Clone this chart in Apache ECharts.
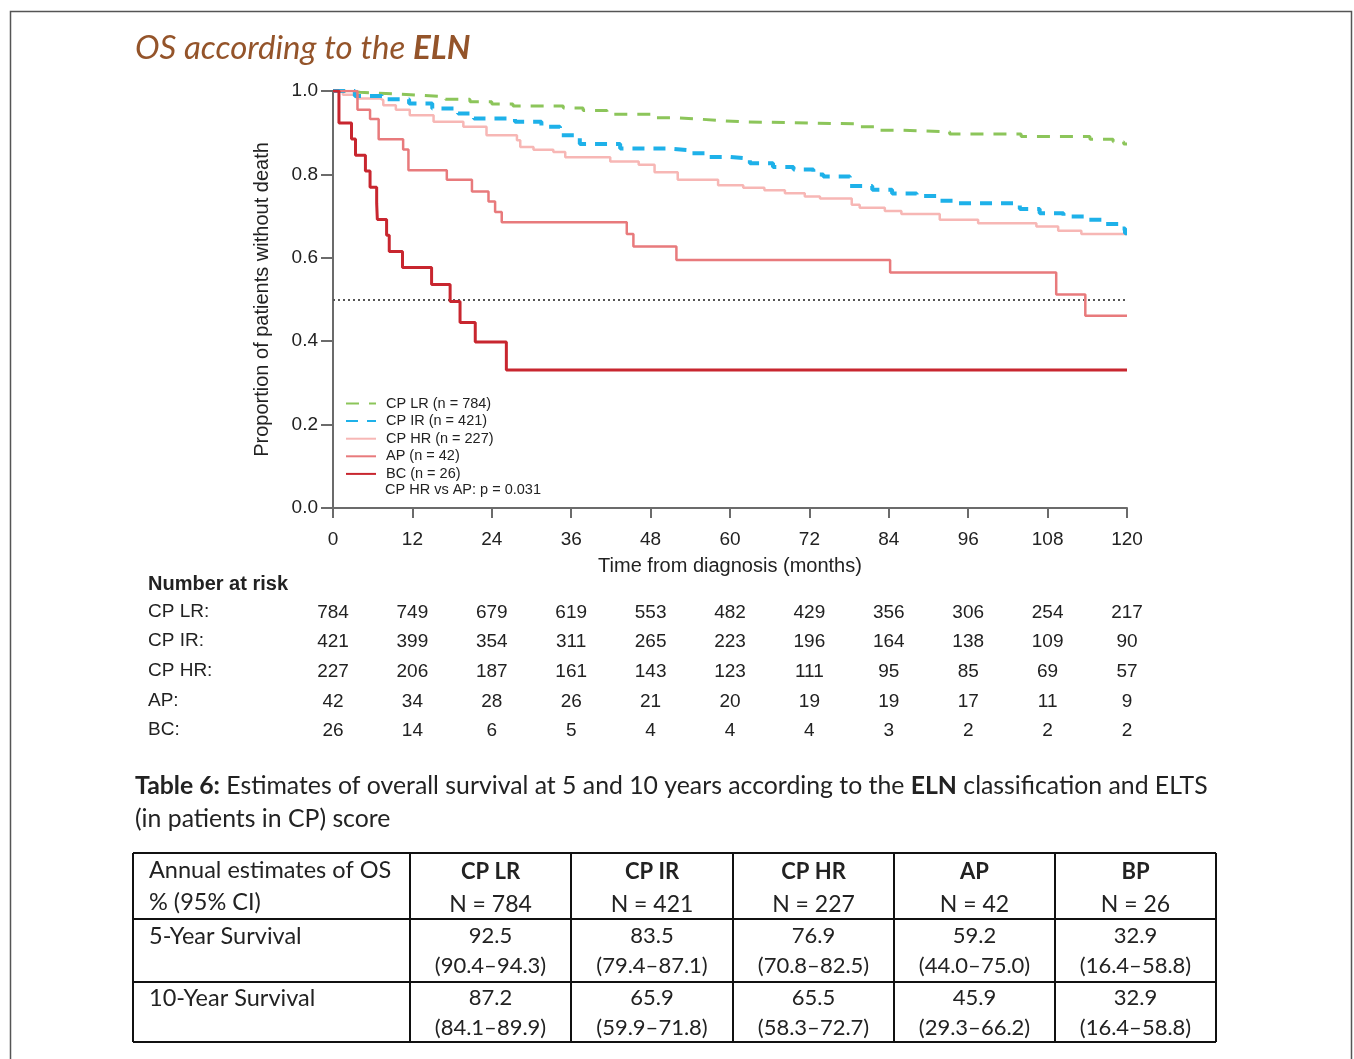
<!DOCTYPE html>
<html><head><meta charset="utf-8">
<script src="https://cdn.jsdelivr.net/npm/echarts@6/dist/echarts.min.js"></script>
<style>html,body{margin:0;padding:0;background:#fff}#c{width:1354px;height:1059px}</style>
</head><body><div id="c"></div>
<script>
// ---- data ----
const groups = ['CP LR', 'CP IR', 'CP HR', 'AP', 'BC'];
const groupN = [784, 421, 227, 42, 26];

const lrTime = [0, 2, 4.1, 8, 13.1, 17, 20.7, 24, 27.2, 34.8, 37.8, 41.4, 48.4, 51.4, 55, 58.5, 62, 69.1, 79.6, 82.7, 86.2, 93.2, 104, 114.4, 117.9, 119.5, 120];
const lrSurv = [1, 0.997, 0.994, 0.990, 0.986, 0.980, 0.974, 0.969, 0.964, 0.959, 0.953, 0.944, 0.936, 0.933, 0.929, 0.926, 0.924, 0.921, 0.914, 0.906, 0.902, 0.897, 0.891, 0.884, 0.878, 0.873, 0.873];

const irTime = [0, 3.3, 7.4, 11.5, 15, 18.9, 21.3, 27.5, 31.5, 34.3, 37.3, 43.4, 50.6, 53.9, 56.5, 60, 63, 66.5, 69.6, 72.6, 74.1, 78.1, 81.5, 84.5, 88.2, 91.4, 93.7, 103.8, 106.8, 110.4, 113.9, 116.4, 119.3, 119.7, 120];
const irSurv = [1, 0.988, 0.980, 0.970, 0.958, 0.946, 0.934, 0.926, 0.914, 0.894, 0.873, 0.862, 0.858, 0.851, 0.842, 0.838, 0.827, 0.818, 0.812, 0.800, 0.795, 0.772, 0.763, 0.754, 0.748, 0.737, 0.731, 0.717, 0.707, 0.699, 0.691, 0.681, 0.670, 0.659, 0.659];

const hrTime = [0, 1.5, 3.6, 7.1, 7.6, 9.5, 11.6, 15.2, 19.7, 23.2, 27.8, 28.3, 30.3, 33.3, 35.1, 41.9, 46.2, 48.6, 52.1, 58.2, 62, 65.2, 68.3, 71.3, 73.6, 78.4, 79.6, 83.4, 85.9, 91.7, 97.5, 106.3, 109.6, 113.1, 120];
const hrSurv = [1, 0.991, 0.982, 0.978, 0.966, 0.955, 0.942, 0.926, 0.914, 0.894, 0.882, 0.866, 0.859, 0.854, 0.841, 0.831, 0.823, 0.805, 0.787, 0.774, 0.768, 0.762, 0.755, 0.747, 0.742, 0.727, 0.720, 0.712, 0.705, 0.691, 0.683, 0.675, 0.665, 0.657, 0.657];

const apTime = [0, 3.7, 5.6, 6.9, 10.6, 11.4, 17.2, 21.0, 23.5, 24.5, 25.5, 44.4, 45.4, 51.9, 84.2, 109.3, 113.7, 120];
const apSurv = [1, 0.955, 0.933, 0.884, 0.860, 0.810, 0.787, 0.759, 0.735, 0.710, 0.685, 0.657, 0.627, 0.595, 0.565, 0.512, 0.461, 0.461];

const bcTime = [0, 0.9, 2.8, 3.4, 4.9, 5.6, 6.6, 6.7, 8.1, 8.5, 10.5, 14.9, 17.7, 19.2, 21.5, 26.2, 120];
const bcSurv = [1, 0.923, 0.885, 0.846, 0.808, 0.769, 0.731, 0.692, 0.654, 0.615, 0.577, 0.536, 0.495, 0.445, 0.398, 0.331, 0.331];

const medianLevel = 0.5;

// number at risk (at 0,12,...,120 months)
const riskLR = [784, 749, 679, 619, 553, 482, 429, 356, 306, 254, 217];
const riskIR = [421, 399, 354, 311, 265, 223, 196, 164, 138, 109, 90];
const riskHR = [227, 206, 187, 161, 143, 123, 111, 95, 85, 69, 57];
const riskAP = [42, 34, 28, 26, 21, 20, 19, 19, 17, 11, 9];
const riskBC = [26, 14, 6, 5, 4, 4, 4, 3, 2, 2, 2];
const riskLabels = ['CP LR:', 'CP IR:', 'CP HR:', 'AP:', 'BC:'];

// table 6
const tableHeads = ['CP LR', 'CP IR', 'CP HR', 'AP', 'BP'];
const tableN = [784, 421, 227, 42, 26];
const os5 = ['92.5', '83.5', '76.9', '59.2', '32.9'];
const ci5 = ['(90.4–94.3)', '(79.4–87.1)', '(70.8–82.5)', '(44.0–75.0)', '(16.4–58.8)'];
const os10 = ['87.2', '65.9', '65.5', '45.9', '32.9'];
const ci10 = ['(84.1–89.9)', '(59.9–71.8)', '(58.3–72.7)', '(29.3–66.2)', '(16.4–58.8)'];

// ---- chart ----
const AX = 'Liberation Sans, Arial, sans-serif';
const TF = 'Lato, "Open Sans", sans-serif';
const zip = (t, s) => t.map((x, i) => [x, s[i]]);
const curveData = [zip(lrTime, lrSurv), zip(irTime, irSurv), zip(hrTime, hrSurv), zip(apTime, apSurv), zip(bcTime, bcSurv)];
const colors = ['#8cc55a', '#1eb1e9', '#f7b7b5', '#e87a7c', '#c8262f'];
const widths = [3, 4, 2.5, 2.5, 3];
const dashes = [[13, 10], [12, 9], 'solid', 'solid', 'solid'];
const riskArrays = [riskLR, riskIR, riskHR, riskAP, riskBC];
const riskRowY = [611, 640, 670, 700, 729];

const chart = echarts.init(document.getElementById('c'), null, {renderer: 'canvas'});

const baseX = {
  type: 'value', min: 0, max: 120, interval: 12, gridIndex: 0, position: 'bottom',
  splitLine: {show: false}
};
const xAxes = [Object.assign({}, baseX, {
  axisLine: {lineStyle: {color: '#6b6b6b', width: 2}},
  axisTick: {length: 10, lineStyle: {color: '#6b6b6b', width: 2}},
  axisLabel: {fontFamily: AX, fontSize: 19, color: '#222', margin: 22},
  name: 'Time from diagnosis (months)', nameLocation: 'middle', nameGap: 48,
  nameTextStyle: {fontFamily: AX, fontSize: 20, color: '#222'}
})];
riskArrays.forEach((arr, k) => {
  xAxes.push(Object.assign({}, baseX, {
    offset: riskRowY[k] - 508 - 8,
    axisLine: {show: false}, axisTick: {show: false},
    axisLabel: {fontFamily: AX, fontSize: 19, color: '#222', margin: 0, lineHeight: 20,
      formatter: v => String(arr[Math.round(v / 12)])}
  }));
});

const series = groups.map((g, i) => ({
  name: g, type: 'line', step: 'end', xAxisIndex: 0, yAxisIndex: 0,
  showSymbol: false, symbol: 'none', data: curveData[i],
  lineStyle: {color: colors[i], width: widths[i], type: dashes[i]},
  itemStyle: {color: colors[i]},
  z: [3, 4, 2, 5, 6][i],
  animation: false
}));
series[4].markLine = {
  silent: true, symbol: ['none', 'none'], label: {show: false},
  lineStyle: {color: '#555', width: 2, type: [2, 3]},
  data: [{yAxis: medianLevel}]
};

// graphic elements
const graphics = [];
graphics.push({type: 'rect', shape: {x: 10.5, y: 11.5, width: 1341, height: 1080}, style: {fill: 'none', stroke: '#555', lineWidth: 1.5}, silent: true});
graphics.push({type: 'text', x: 135, y: 48, style: {
  text: '{a|OS according to the }{b|ELN}', verticalAlign: 'middle',
  rich: {a: {fontFamily: TF, fontSize: 33, fontStyle: 'italic', fill: '#94542a'},
         b: {fontFamily: TF, fontSize: 33, fontStyle: 'italic', fontWeight: 'bold', fill: '#94542a'}}
}});
graphics.push({type: 'text', x: 385, y: 490, style: {text: 'CP HR vs AP: p = 0.031', fontFamily: AX, fontSize: 14.5, fill: '#222', verticalAlign: 'middle'}});
graphics.push({type: 'text', x: 148, y: 584, style: {text: 'Number at risk', fontFamily: AX, fontSize: 20, fontWeight: 'bold', fill: '#222', verticalAlign: 'middle'}});
riskLabels.forEach((t, k) => graphics.push({type: 'text', x: 148, y: riskRowY[k] + 1, style: {text: t, fontFamily: AX, fontSize: 19, fill: '#222', verticalAlign: 'middle'}}));

// caption
graphics.push({type: 'text', x: 135, y: 786, style: {
  text: '{b|Table 6:}{a| Estimates of overall survival at 5 and 10 years according to the }{b|ELN}{a| classification and ELTS}',
  verticalAlign: 'middle',
  rich: {a: {fontFamily: TF, fontSize: 24.8, fill: '#222'}, b: {fontFamily: TF, fontSize: 24.8, fontWeight: 'bold', fill: '#222'}}
}});
graphics.push({type: 'text', x: 135, y: 819, style: {text: '(in patients in CP) score', fontFamily: TF, fontSize: 24.8, fill: '#222', verticalAlign: 'middle'}});

// table
const colX = [133, 410, 571, 733, 894, 1055, 1216];
const rowY = [853, 919, 982, 1042];
colX.forEach(x => graphics.push({type: 'line', shape: {x1: x, y1: rowY[0], x2: x, y2: rowY[3]}, style: {stroke: '#111', lineWidth: 2}}));
rowY.forEach(y => graphics.push({type: 'line', shape: {x1: colX[0], y1: y, x2: colX[6], y2: y}, style: {stroke: '#111', lineWidth: 2}}));
const cellText = (x, y, t, align, bold, size) => graphics.push({type: 'text', x: x, y: y, style: {text: t, fontFamily: TF, fontSize: size || 22, fontWeight: bold ? 'bold' : 'normal', fill: '#222', align: align, verticalAlign: 'middle'}});
cellText(149, 870, 'Annual estimates of OS', 'left', false, 23.5);
cellText(149, 902, '% (95% CI)', 'left', false, 23.5);
cellText(149, 936, '5-Year Survival', 'left', false, 23.5);
cellText(149, 998, '10-Year Survival', 'left', false, 23.5);
tableHeads.forEach((h, i) => {
  const cx = (colX[i + 1] + colX[i + 2]) / 2;
  cellText(cx, 872, h, 'center', true);
  cellText(cx, 905, 'N = ' + tableN[i], 'center', false, 23);
  cellText(cx, 936, os5[i], 'center');
  cellText(cx, 966, ci5[i], 'center');
  cellText(cx, 998, os10[i], 'center');
  cellText(cx, 1028, ci10[i], 'center');
});

chart.setOption({
  animation: false,
  backgroundColor: '#fff',
  grid: {left: 333, right: 227, top: 91, bottom: 551, containLabel: false},
  xAxis: xAxes,
  yAxis: {
    type: 'value', min: 0, max: 1, interval: 0.2,
    axisLine: {show: true, lineStyle: {color: '#6b6b6b', width: 2}},
    axisTick: {show: true, length: 12, lineStyle: {color: '#6b6b6b', width: 2}},
    axisLabel: {fontFamily: AX, fontSize: 19, color: '#222', margin: 15, formatter: v => v.toFixed(1)},
    splitLine: {show: false},
    name: 'Proportion of patients without death', nameLocation: 'middle', nameGap: 61,
    nameTextStyle: {fontFamily: AX, fontSize: 20, color: '#222'}
  },
  legend: {
    orient: 'vertical', left: 345, top: 396, padding: 0,
    itemWidth: 30, itemHeight: 14, itemGap: 2.6,
    data: groups,
    itemStyle: {opacity: 0},
    formatter: name => name + ' (n = ' + groupN[groups.indexOf(name)] + ')',
    textStyle: {fontFamily: AX, fontSize: 14.5, color: '#222', lineHeight: 14, padding: [0, 0, 0, 5]}
  },
  series: series,
  graphic: graphics
});
</script></body></html>
